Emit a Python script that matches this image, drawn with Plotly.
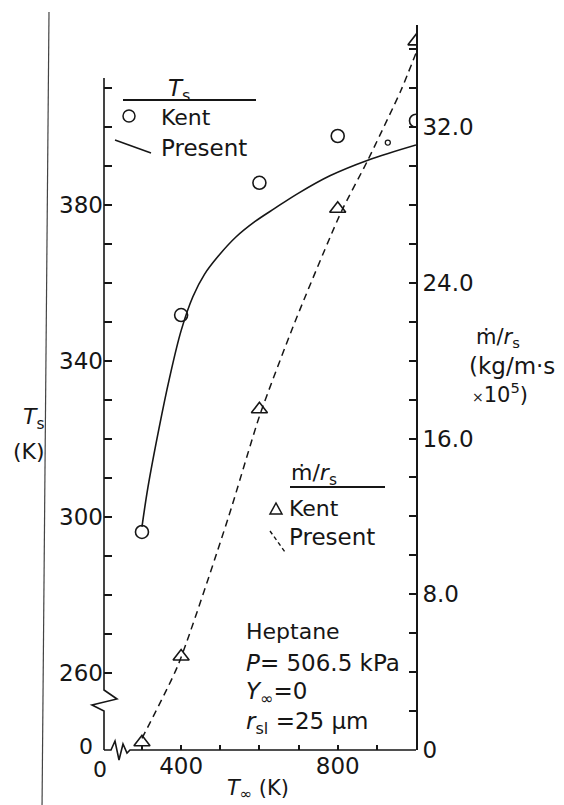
import plotly.graph_objects as go

# ---------------- data ----------------
T_INF_KENT = [300, 400, 600, 800, 1000]
TS_KENT = [296.2, 351.8, 385.7, 397.7, 401.6]
MDOT_KENT = [0.4, 4.8, 17.5, 27.8, 36.4]

T_INF_TS_PRESENT = [300, 315, 343, 370, 400, 430, 460, 494, 540, 589, 640, 699, 780, 877, 1000]
TS_PRESENT = [297.5, 307.5, 322.5, 335.5, 347.8, 356.5, 362.3, 366.8, 371.8, 375.8, 379.2, 383.0, 387.5, 391.5, 395.4]

T_INF_MDOT_PRESENT = [300, 392, 520, 601, 691, 808, 877, 962, 1000]
MDOT_PRESENT = [0.6, 4.35, 11.9, 17.2, 22.0, 27.6, 30.3, 33.9, 35.8]

SPECK_T_INF = [928]
SPECK_TS = [396]

X_TICKS = [400, 800]
X_TICK_TEXT = ["400", "800"]
X_BREAK_LABEL = "0"
X_MINOR = [300, 500, 600, 700, 900, 1000]
TS_TICKS = [260, 300, 340, 380]
TS_TICK_TEXT = ["260", "300", "340", "380"]
TS_BREAK_LABEL = "0"
TS_MINOR = [270, 280, 290, 310, 320, 330, 350, 360, 370, 390, 400, 410]
MDOT_TICKS = [0, 8, 16, 24, 32]
MDOT_TICK_TEXT = ["0", "8.0", "16.0", "24.0", "32.0"]
MDOT_MINOR = [2, 4, 6, 10, 12, 14, 18, 20, 22, 26, 28, 30, 34, 36]

X_RANGE = [203, 1000]
TS_RANGE = [240.3, 426.15]
MDOT_RANGE = [0, 37.24]

# ---------------- layout helpers ----------------
W, H = 564, 805
L, R, T, B = 96, 408, 17, 742
INK = "#161616"
FONT = "DejaVu Sans"


def PX(x):
    return (x - L) / (R - L)


def PY(y):
    return (B - y) / (B - T)


def path(points):
    return "M " + " L ".join(f"{PX(x):.5f},{PY(y):.5f}" for x, y in points)


fig = go.Figure()

fig.add_trace(go.Scatter(
    x=T_INF_TS_PRESENT, y=TS_PRESENT, mode="lines",
    line=dict(color=INK, width=1.6, shape="spline", smoothing=1.0),
    hoverinfo="skip", showlegend=False))
fig.add_trace(go.Scatter(
    x=T_INF_KENT, y=TS_KENT, mode="markers",
    marker=dict(symbol="circle-open", size=13, color=INK, line=dict(width=1.6)),
    showlegend=False))
fig.add_trace(go.Scatter(
    x=SPECK_T_INF, y=SPECK_TS, mode="markers",
    marker=dict(symbol="circle-open", size=5, color=INK, line=dict(width=1.3)),
    hoverinfo="skip", showlegend=False))
fig.add_trace(go.Scatter(
    x=T_INF_MDOT_PRESENT, y=MDOT_PRESENT, mode="lines", yaxis="y2",
    line=dict(color=INK, width=1.5, dash="7px,5px", shape="spline", smoothing=0.6),
    hoverinfo="skip", showlegend=False))
fig.add_trace(go.Scatter(
    x=T_INF_KENT, y=MDOT_KENT, mode="markers", yaxis="y2",
    marker=dict(symbol="triangle-up-open", size=14, color=INK, line=dict(width=1.6)),
    showlegend=False))

shapes = []
# outer scan frame line
shapes.append(dict(type="line", xref="paper", yref="paper",
                   x0=PX(41), y0=PY(4), x1=PX(34), y1=PY(803),
                   line=dict(color="#444", width=1.2)))
# left axis with break
shapes.append(dict(type="path", xref="paper", yref="paper",
                   path=path([(L, 70), (L, 682), (109, 691), (84, 697), (L, 703), (L, B)]),
                   line=dict(color=INK, width=1.6)))
# bottom axis with break
shapes.append(dict(type="path", xref="paper", yref="paper",
                   path=path([(L, B), (103, B), (107, 733), (111, 752), (115, 736),
                              (119, 745), (122, B), (R, B)]),
                   line=dict(color=INK, width=1.6)))
# legend 1
shapes.append(dict(type="line", xref="paper", yref="paper",
                   x0=PX(115), y0=PY(92), x1=PX(248), y1=PY(92),
                   line=dict(color=INK, width=1.8)))
shapes.append(dict(type="circle", xref="paper", yref="paper",
                   x0=PX(115), y0=PY(102), x1=PX(127), y1=PY(114),
                   line=dict(color=INK, width=1.5)))
shapes.append(dict(type="line", xref="paper", yref="paper",
                   x0=PX(107), y0=PY(132), x1=PX(143), y1=PY(145),
                   line=dict(color=INK, width=1.5)))
# legend 2
shapes.append(dict(type="line", xref="paper", yref="paper",
                   x0=PX(282), y0=PY(479), x1=PX(377), y1=PY(479),
                   line=dict(color=INK, width=1.8)))
shapes.append(dict(type="path", xref="paper", yref="paper",
                   path=path([(262, 506), (274, 506), (268, 495)]) + " Z",
                   line=dict(color=INK, width=1.5)))
shapes.append(dict(type="line", xref="paper", yref="paper",
                   x0=PX(262), y0=PY(523), x1=PX(277), y1=PY(544),
                   line=dict(color=INK, width=1.4, dash="4px,3px")))

ann = []


def text(x, y, s, size=23, xanchor="left"):
    ann.append(dict(x=PX(x), y=PY(y), xref="paper", yref="paper", text=s,
                    showarrow=False, xanchor=xanchor, yanchor="middle",
                    font=dict(family=FONT, size=size, color=INK)))


text(171, 82, "<i>T</i><sub>s</sub>", xanchor="center")
text(151, 109, "Kent", size=22)
text(151, 140, "Present")
text(281, 466, "ṁ/<i>r</i><sub>s</sub>", size=22)
text(279, 500, "Kent", size=22)
text(279, 529, "Present")
text(466, 330, "ṁ/<i>r</i><sub>s</sub>", size=21)
text(459, 358, "(kg/m·s", size=23)
text(462, 385, "<span style='font-size:14px'>×</span>10<sup>5</sup>)", size=21)
text(25, 411, "<i>T</i><sub>s</sub>", size=22, xanchor="center")
text(21, 443, "(K)", size=22, xanchor="center")
text(250, 781, "<i>T</i><sub>∞</sub> (K)", size=21, xanchor="center")
text(92, 761, X_BREAK_LABEL, size=22, xanchor="center")
text(78, 738, TS_BREAK_LABEL, size=22, xanchor="center")
text(236, 623, "Heptane", size=22)
text(236, 655, "<i>P</i>= 506.5 kPa", size=23)
text(236, 685, "<i>Y</i><sub>∞</sub>=0", size=23)
text(236, 715, "<i>r</i><sub>sl</sub> =25 μm", size=23)

tick_common = dict(ticks="inside", tickwidth=1.5, tickcolor=INK,
                   showgrid=False, zeroline=False,
                   tickfont=dict(family=FONT, size=23, color=INK))

fig.update_layout(
    width=W, height=H,
    margin=dict(l=L, r=W - R, t=T, b=H - B, pad=0),
    paper_bgcolor="white", plot_bgcolor="white",
    font=dict(family=FONT, size=23, color=INK),
    shapes=shapes, annotations=ann,
    xaxis=dict(range=X_RANGE, showline=False, ticklen=5,
               tickvals=X_TICKS, ticktext=X_TICK_TEXT,
               minor=dict(tickvals=X_MINOR, ticks="inside", ticklen=5,
                          tickwidth=1.5, tickcolor=INK),
               **tick_common),
    yaxis=dict(range=TS_RANGE, showline=False, ticklen=8,
               tickvals=TS_TICKS, ticktext=TS_TICK_TEXT,
               minor=dict(tickvals=TS_MINOR, ticks="inside", ticklen=8,
                          tickwidth=1.5, tickcolor=INK),
               **tick_common),
    yaxis2=dict(range=MDOT_RANGE, overlaying="y", side="right", anchor="x",
                showline=True, linecolor=INK, linewidth=1.6, ticklen=7,
                tickvals=MDOT_TICKS, ticktext=MDOT_TICK_TEXT,
                minor=dict(tickvals=MDOT_MINOR, ticks="inside", ticklen=7,
                           tickwidth=1.5, tickcolor=INK),
                **tick_common),
)

fig.write_html("out.html")
